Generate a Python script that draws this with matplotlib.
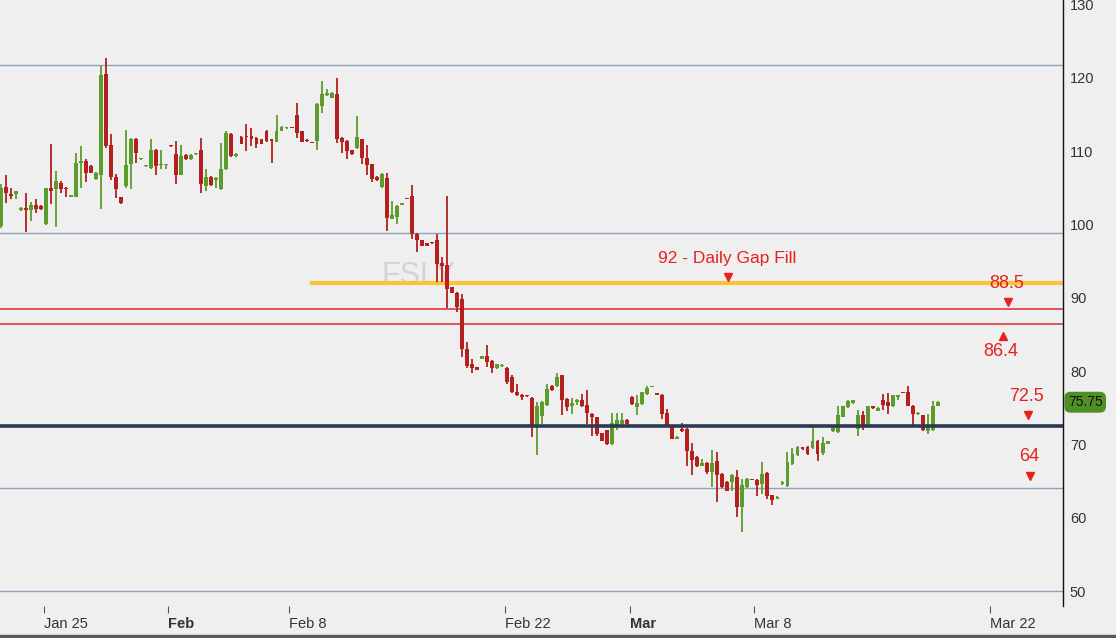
import matplotlib.pyplot as plt
from matplotlib.patches import Rectangle

plt.rcParams['font.family'] = ['Liberation Sans', 'DejaVu Sans']

# one candle per slot (5 slots per trading day), Jan 22 .. Mar 17
opens = [99.8, 105.1, 104.2, 104.1, 101.9, 102.2, 101.9, 102.65, 102.5, 100.0,
         104.9, 104.8, 105.7, 105.0, 103.8, 103.8, 108.4, 108.6, 108.0, 106.15,
         106.8, 120.5, 110.8, 106.4, 103.7, 105.2, 108.2, 111.6, 108.85, 107.9,
         107.7, 110.1, 108.1, 108.1, 110.75, 109.6, 106.8, 109.45, 108.9, 109.55,
         110.2, 105.2, 106.5, 106.0, 104.8, 107.5, 112.3, 109.3, 111.9, 112.05,
         112.0, 111.8, 111.6, 112.8, 111.6, 111.3, 112.8, 113.1, 113.2, 114.9,
         112.7, 111.45, 111.15, 111.4, 116.1, 117.6, 117.3, 117.8, 111.8, 111.4,
         110.1, 110.4, 111.6, 109.0, 108.2, 106.5, 105.1, 106.3, 100.8, 101.0,
         102.7, 103.5, 103.9, 98.75, 97.85, 97.4, 97.45, 97.85, 94.8, 94.5,
         91.4, 90.7, 89.8, 83.0, 81.0, 80.5, 81.7, 82.1, 81.4, 80.4,
         80.7, 80.4, 79.25, 77.1, 76.8, 76.6, 76.35, 72.35, 73.9, 75.4,
         78.0, 77.9, 79.4, 76.2, 75.2, 75.75, 76.1, 75.4, 74.2, 73.7,
         71.5, 71.9, 70.0, 72.35, 72.8, 73.35, 76.5, 75.1, 75.5, 76.9,
         77.85, 76.85, 76.8, 74.3, 72.45, 70.8, 72.1, 72.1, 69.1, 68.3,
         67.1, 67.4, 66.2, 67.7, 65.9, 64.9, 64.9, 65.5, 61.5, 64.2,
         65.2, 65.2, 64.65, 66.1, 63.1, 62.6, 64.6, 64.3, 67.3, 68.5,
         69.6, 69.7, 69.55, 70.45, 68.8, 70.1, 71.8, 71.7, 73.8, 75.1,
         75.6, 72.1, 73.95, 72.7, 75.2, 74.6, 76.0, 75.75, 75.2, 76.4,
         77.05, 77.1, 75.3, 74.1, 73.95, 71.8, 71.9, 75.3]
closes = [105.0, 104.3, 103.9, 104.5, 102.3, 102.0, 102.65, 102.1, 102.1, 104.9,
          104.5, 105.9, 104.8, 104.8, 103.85, 108.4, 108.6, 107.05, 107.05, 107.05,
          120.4, 110.7, 106.4, 104.8, 102.9, 108.1, 111.6, 109.8, 108.95, 107.95,
          110.1, 108.0, 108.3, 108.25, 110.65, 106.8, 109.3, 108.9, 109.45, 109.65,
          105.5, 106.5, 105.4, 106.3, 107.5, 112.5, 109.3, 109.6, 111.0, 111.95,
          111.6, 110.9, 111.0, 111.4, 111.4, 112.7, 113.3, 113.15, 113.15, 112.5,
          111.3, 111.35, 111.1, 116.4, 117.8, 117.9, 117.9, 111.6, 111.3, 110.0,
          109.6, 111.9, 109.0, 108.1, 106.15, 106.0, 106.9, 100.9, 101.3, 102.5,
          102.8, 103.45, 98.7, 97.85, 97.1, 97.1, 97.4, 94.6, 94.35, 91.2,
          90.7, 88.7, 83.0, 80.75, 80.4, 80.2, 82.0, 81.2, 80.4, 80.9,
          80.8, 78.5, 77.1, 76.7, 76.4, 76.55, 72.35, 75.3, 75.75, 77.6,
          77.4, 79.2, 76.1, 75.1, 75.6, 76.1, 75.2, 74.3, 73.7, 71.45,
          70.5, 70.0, 72.9, 73.3, 73.35, 72.8, 75.5, 75.6, 77.1, 77.7,
          77.9, 76.8, 74.2, 72.45, 70.8, 71.0, 71.8, 69.1, 67.9, 67.1,
          67.4, 66.2, 67.5, 65.8, 64.2, 63.7, 65.8, 61.4, 64.4, 65.3,
          65.15, 64.4, 66.0, 62.9, 62.4, 62.8, 64.9, 67.6, 68.7, 69.7,
          69.4, 68.7, 70.45, 68.7, 70.2, 70.4, 72.3, 73.95, 75.2, 75.9,
          76.0, 73.95, 72.7, 75.2, 74.9, 75.0, 75.4, 75.3, 76.7, 76.7,
          77.0, 75.3, 74.1, 74.3, 71.9, 72.35, 75.3, 75.75]
highs = [105.5, 106.7, 105.0, 104.6, 102.4, 104.3, 103.0, 103.5, 102.6, 105.0,
         111.0, 107.3, 105.9, 105.1, 103.9, 109.8, 110.7, 108.9, 108.1, 107.1,
         121.6, 122.7, 112.3, 106.9, 103.8, 112.9, 111.8, 111.8, 109.0, 108.0,
         111.6, 110.3, 110.2, 108.3, 110.8, 111.4, 110.8, 109.6, 109.6, 109.8,
         111.8, 107.6, 106.6, 106.4, 111.1, 112.7, 112.4, 109.7, 112.0, 113.7,
         113.1, 111.9, 111.7, 112.9, 111.7, 114.9, 113.4, 113.2, 113.3, 116.6,
         112.8, 111.6, 111.2, 116.5, 119.6, 118.5, 118.0, 119.9, 111.9, 111.5,
         110.2, 114.8, 111.7, 110.8, 108.3, 106.6, 107.0, 107.05, 103.2, 102.6,
         102.9, 103.55, 105.4, 98.8, 97.9, 97.5, 97.5, 98.7, 95.6, 103.9,
         91.5, 90.8, 90.5, 83.9, 81.6, 80.6, 82.1, 83.5, 81.5, 81.0,
         80.9, 80.5, 79.4, 78.2, 76.9, 76.65, 76.5, 75.75, 75.9, 78.2,
         78.1, 79.7, 79.5, 76.3, 76.3, 76.2, 76.9, 77.35, 74.3, 73.8,
         71.6, 72.0, 74.3, 74.3, 74.3, 73.4, 76.6, 76.7, 77.2, 78.0,
         78.0, 76.9, 76.9, 74.8, 72.5, 71.1, 72.9, 72.2, 70.2, 68.4,
         68.0, 67.6, 69.3, 69.0, 66.1, 65.0, 65.9, 66.5, 65.3, 65.4,
         65.25, 65.3, 67.6, 66.2, 63.1, 62.9, 65.0, 69.0, 69.55, 69.8,
         69.7, 69.8, 72.45, 70.6, 71.0, 70.5, 72.4, 75.3, 75.3, 76.0,
         76.1, 74.7, 74.6, 75.3, 75.3, 75.1, 76.9, 77.0, 76.8, 76.7,
         77.1, 78.0, 75.4, 74.4, 74.0, 74.1, 75.9, 75.9]
lows = [99.5, 102.9, 103.4, 103.5, 101.8, 98.9, 100.5, 101.5, 102.0, 99.9,
        102.75, 99.6, 104.3, 103.7, 103.75, 103.7, 105.0, 105.8, 107.0, 106.1,
        102.1, 110.4, 106.0, 103.6, 102.8, 105.0, 104.8, 108.4, 108.8, 107.85,
        107.6, 106.7, 107.6, 107.55, 110.6, 105.5, 106.7, 108.8, 108.8, 109.5,
        104.3, 104.6, 105.3, 104.9, 104.7, 107.4, 109.2, 109.2, 110.9, 110.0,
        110.7, 110.4, 110.9, 111.3, 108.4, 111.2, 112.7, 113.0, 113.1, 111.8,
        111.2, 111.2, 111.05, 110.2, 115.2, 117.5, 117.2, 111.1, 109.8, 108.9,
        109.5, 110.3, 108.2, 106.8, 105.8, 105.9, 105.0, 99.1, 100.7, 100.0,
        102.6, 103.4, 98.0, 96.2, 97.0, 97.0, 97.35, 92.1, 92.1, 88.6,
        90.6, 88.0, 81.9, 80.4, 79.8, 80.1, 81.6, 80.5, 79.8, 80.3,
        80.6, 78.3, 77.0, 76.6, 76.0, 76.5, 71.0, 68.6, 72.8, 75.3,
        77.3, 77.8, 73.95, 74.6, 74.2, 75.4, 75.1, 72.8, 71.2, 71.2,
        70.4, 69.9, 69.9, 72.0, 72.6, 72.7, 75.4, 73.95, 75.4, 76.8,
        77.8, 76.75, 73.5, 72.4, 70.7, 70.7, 71.7, 67.0, 65.8, 66.9,
        67.0, 66.0, 64.2, 62.15, 64.0, 63.6, 63.7, 60.1, 58.1, 64.1,
        65.1, 62.9, 63.3, 62.6, 61.7, 62.5, 64.5, 64.2, 67.2, 68.4,
        69.3, 68.6, 69.4, 67.7, 68.5, 70.0, 71.7, 71.5, 73.7, 75.0,
        75.5, 71.1, 71.9, 72.6, 74.8, 74.5, 74.7, 74.2, 75.1, 76.0,
        76.95, 75.2, 72.45, 74.0, 71.8, 71.35, 71.8, 75.2]

tick_labels = ['Jan 25', 'Feb', 'Feb 8', 'Feb 22', 'Mar', 'Mar 8', 'Mar 22']
tick_pos = [8.5, 33.4, 57.4, 100.7, 125.6, 150.4, 197.5]
month_starts = ['Feb', 'Mar']

ticker = 'FSLY'
guide_levels = [121.7, 98.8, 64.0, 50.0]
gap_fill = 92.0
gap_fill_start = 62
red_levels = [88.5, 86.4]
support = 72.5

up_col = '#5c9c2c'
down_col = '#b3201d'
note_col = '#e8201f'
bg = '#efefef'

fig = plt.figure(figsize=(11.16, 6.38), dpi=100, facecolor=bg)
ax = fig.add_axes([0, 32 / 638, 1063 / 1116, 606 / 638])
ax.set_facecolor(bg)

ax.text(83.4, 93.0, ticker, fontsize=22, color='#d4d4d4', ha='center', va='center', zorder=0)

for lv in guide_levels:
    ax.axhline(lv, color='#8ea2b8', lw=1.0, zorder=1)
ax.plot([gap_fill_start, 215], [gap_fill, gap_fill], color='#f8c53a', lw=3, zorder=1)
for lv in red_levels:
    ax.axhline(lv, color='#e0393a', lw=1.2, zorder=1)
ax.axhline(support, color='#2b3a50', lw=2.6, zorder=4)

xs = list(range(len(opens)))
cols = [up_col if c >= o else down_col for o, c in zip(opens, closes)]
bottoms = [min(o, c) for o, c in zip(opens, closes)]
heights = [max(abs(c - o), 0.15) for o, c in zip(opens, closes)]
ax.vlines(xs, lows, highs, colors=cols, lw=1.3, zorder=2)
ax.bar(xs, heights, bottom=bottoms, width=0.78, color=cols, zorder=3)

# annotations
ax.text(144.9, 95.4, f'{gap_fill:g} - Daily Gap Fill', color=note_col, fontsize=12.5,
        ha='center', va='center', zorder=5)
ax.plot(145.1, 92.85, marker='v', color=note_col, ms=6, zorder=5)
ax.text(200.8, 91.9, f'{red_levels[0]:g}', color=note_col, fontsize=13, ha='center', va='center', zorder=5)
ax.plot(201.0, 89.4, marker='v', color=note_col, ms=6, zorder=5)
ax.plot(200.0, 84.8, marker='^', color=note_col, ms=6, zorder=5)
ax.text(199.6, 82.6, f'{red_levels[1]:g}', color=note_col, fontsize=13, ha='center', va='center', zorder=5)
ax.text(204.8, 76.5, f'{support:g}', color=note_col, fontsize=13, ha='center', va='center', zorder=5)
ax.plot(205.0, 74.0, marker='v', color=note_col, ms=6, zorder=5)
ax.text(205.2, 68.3, f'{guide_levels[2]:g}', color=note_col, fontsize=13, ha='center', va='center', zorder=5)
ax.plot(205.4, 65.7, marker='v', color=note_col, ms=6, zorder=5)

ax.set_xlim(-0.2, 212.0)
ax.set_ylim(47.96, 130.6)

for side in ['left', 'top', 'bottom']:
    ax.spines[side].set_visible(False)
ax.spines['right'].set_color('#111111')
ax.spines['right'].set_linewidth(1.0)

ax.yaxis.tick_right()
ax.set_yticks(range(50, 131, 10))
ax.tick_params(axis='y', length=0, pad=5, labelsize=10.5, labelcolor='#333333')
ax.set_xticks(tick_pos)
ax.set_xticklabels(tick_labels)
ax.tick_params(axis='x', length=5, width=0.8, color='#555555', pad=3, labelsize=10.5,
               labelcolor='#333333')
for lab in ax.get_xticklabels():
    lab.set_horizontalalignment('left')
    if lab.get_text() in month_starts:
        lab.set_fontweight('bold')

# last price tag
ax.text(1.0045, closes[-1], f'{closes[-1]:.2f}', transform=ax.get_yaxis_transform(),
        fontsize=10, color='#111111', ha='left', va='center', zorder=6, clip_on=False,
        bbox=dict(boxstyle='round,pad=0.2,rounding_size=0.4', fc='#4f8f26', ec='#4f8f26'))

fig.patches.append(Rectangle((0, 0), 1, 3 / 638, transform=fig.transFigure,
                             color='#5a5a5a', zorder=0))

fig.savefig('out.png', dpi=100, facecolor=bg)
